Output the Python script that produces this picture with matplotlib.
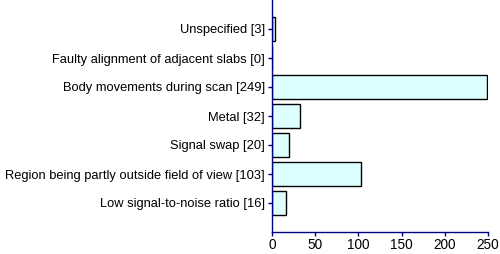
import matplotlib
matplotlib.use('Agg')
import matplotlib.pyplot as plt

# Data (top to bottom as in the chart)
categories = ['Unspecified', 'Faulty alignment of adjacent slabs', 'Body movements during scan',
              'Metal', 'Signal swap', 'Region being partly outside field of view',
              'Low signal-to-noise ratio']
counts = [3, 0, 249, 32, 20, 103, 16]
xticks = [0, 50, 100, 150, 200, 250]

plt.rcParams['font.family'] = ['Liberation Sans', 'DejaVu Sans']
navy = '#000080'

fig = plt.figure(figsize=(5.0, 2.54), dpi=100)
ax = fig.add_axes([272/500, 1 - 232/254, 216/500, 232/254])

labels = ['{0} [{1}]'.format(c, n) for c, n in zip(categories, counts)]
pos = list(range(len(categories)))[::-1]
ax.barh(pos, counts, height=0.85, color='#DDFFFF', edgecolor='black', linewidth=1.0)

ax.set_xlim(0, 250)
ax.set_ylim(-1, len(categories))
ax.set_xticks(xticks)
ax.set_yticks(pos)
ax.set_yticklabels(labels)

for s in ['top', 'right']:
    ax.spines[s].set_visible(False)
for s in ['left', 'bottom']:
    ax.spines[s].set_color(navy)
    ax.spines[s].set_linewidth(1.0)
    ax.spines[s].set_clip_on(False)
ax.tick_params(axis='both', colors=navy, labelcolor='black', labelsize=9.3, length=3, width=1, pad=2)
ax.tick_params(axis='x', labelsize=9.8, pad=1)

fig.savefig('out.png', dpi=100)
